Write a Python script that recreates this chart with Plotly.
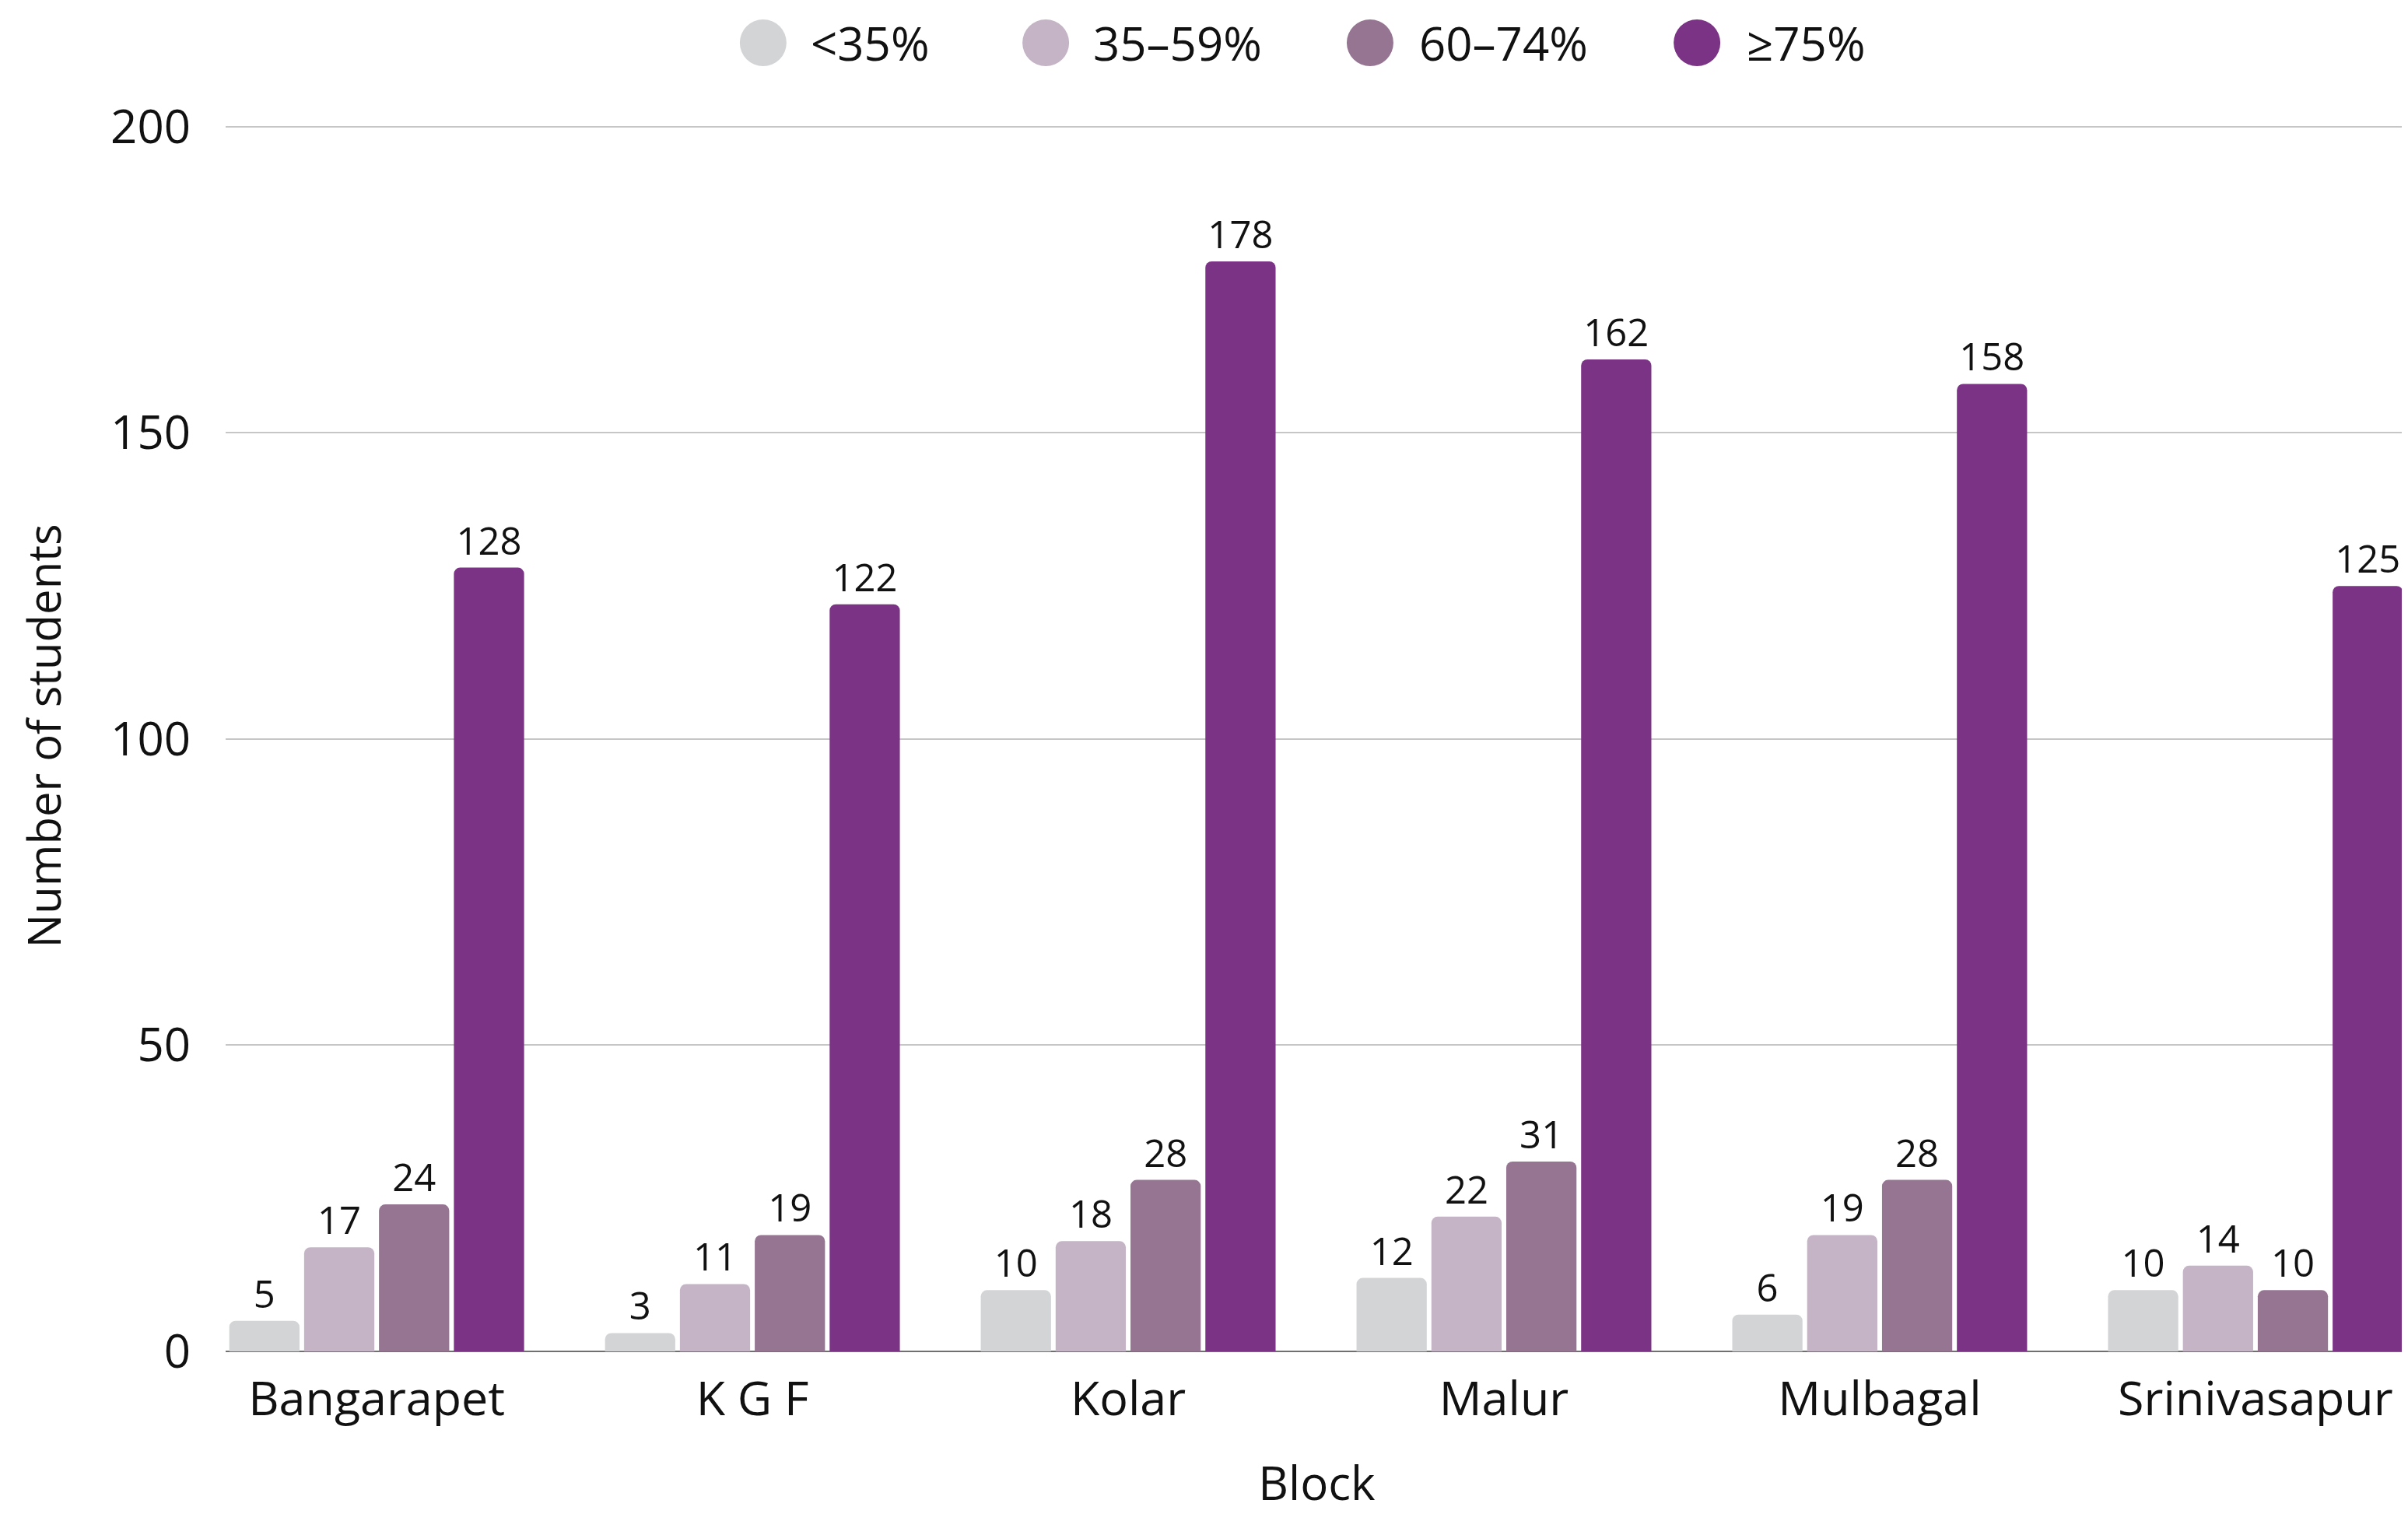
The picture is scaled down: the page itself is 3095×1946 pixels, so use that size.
import plotly.graph_objects as go

blocks = ["Bangarapet", "K G F", "Kolar", "Malur", "Mulbagal", "Srinivasapur"]
series_names = ["<35%", "35–59%", "60–74%", "≥75%"]
lt35 = [5, 3, 10, 12, 6, 10]
p35_59 = [17, 11, 18, 22, 19, 14]
p60_74 = [24, 19, 28, 31, 28, 10]
ge75 = [128, 122, 178, 162, 158, 125]
colors = ["#d3d4d6", "#c4b4c6", "#957592", "#7b3385"]
y_ticks = [0, 50, 100, 150, 200]

# legend layout (paper x fractions for marker centers and text starts)
legend_marker_x = [0.2463, 0.3758, 0.5244, 0.6742]
legend_text_x = [0.2674, 0.3968, 0.5462, 0.6963]

FONT = "Open Sans"
TXT = "#111111"
fig = go.Figure()
for name, vals, col in zip(series_names, [lt35, p35_59, p60_74, ge75], colors):
    fig.add_trace(go.Bar(
        x=blocks, y=vals, name=name,
        marker=dict(color=col, cornerradius=8, line=dict(width=0)),
        text=[str(v) for v in vals], textposition="outside", cliponaxis=False,
        textfont=dict(family=FONT, size=49, color=TXT), showlegend=False,
    ))

# custom legend with large circular markers
LEG_SHIFT = 100  # px above plot top
for name, col, mx, tx in zip(series_names, colors, legend_marker_x, legend_text_x):
    fig.add_shape(type="circle", xref="paper", yref="paper", xsizemode="pixel", ysizemode="pixel",
                  xanchor=mx, yanchor=1, x0=-30, x1=30, y0=LEG_SHIFT - 30, y1=LEG_SHIFT + 30,
                  fillcolor=col, line=dict(width=0))
    fig.add_annotation(text=name, xref="paper", yref="paper", x=tx, y=1, yshift=LEG_SHIFT,
                       xanchor="left", yanchor="middle", showarrow=False,
                       font=dict(family=FONT, size=60, color=TXT))

# the page adds an 8px body margin; the figure is sized to fit the window
fig.update_layout(
    width=3087, height=1938,
    margin=dict(l=282, r=0, t=147, b=209),
    paper_bgcolor="white", plot_bgcolor="white",
    barmode="group", bargap=0.203, bargroupgap=0.062,
    font=dict(family=FONT, color=TXT),
    showlegend=False,
)
fig.update_xaxes(
    type="category", range=[-0.402, 5.406], showgrid=False, ticks="", showline=False,
    tickfont=dict(family=FONT, size=61, color=TXT), ticklabelstandoff=20,
    title=dict(text="Block", font=dict(family=FONT, size=60, color=TXT), standoff=58),
)
fig.update_yaxes(
    range=[0, 201], tickvals=y_ticks, showgrid=True, gridcolor="#c6c6c6", gridwidth=2,
    zeroline=True, zerolinecolor="#707070", zerolinewidth=2, ticks="", showline=False,
    tickfont=dict(family=FONT, size=60, color=TXT), ticklabelstandoff=44,
    title=dict(text="Number of students", font=dict(family=FONT, size=58, color=TXT), standoff=44),
)
fig.write_html("out.html")
